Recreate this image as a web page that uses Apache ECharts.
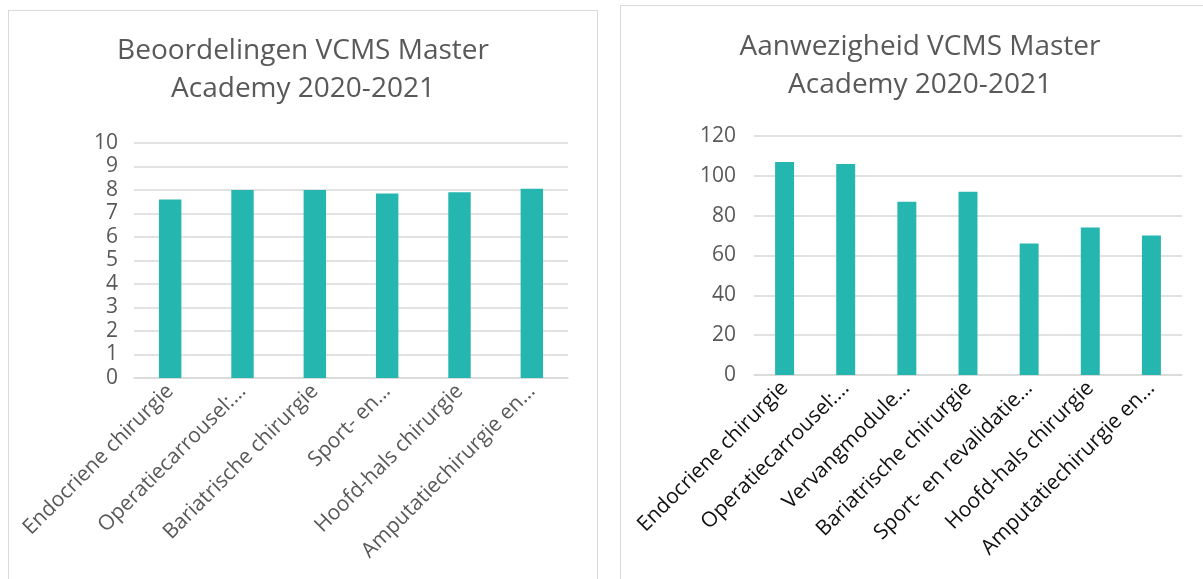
<!DOCTYPE html>
<html>
<head>
<meta charset="utf-8">
<script src="https://cdn.jsdelivr.net/npm/echarts@6/dist/echarts.min.js"></script>
<style>
body{margin:0;background:#fff;overflow:hidden;width:1203px;height:579px;position:relative}
.card{position:absolute;border:1px solid #d9d9d9;background:#fff;box-sizing:border-box}
#echarts1{left:8px;top:10px;width:590px;height:600px}
#echarts2{left:620px;top:5px;width:600px;height:600px}
</style>
</head>
<body>
<div class="card" id="echarts1"></div>
<div class="card" id="echarts2"></div>
<script>
// beoordelingen (scores)
const scoreCategories = ['Endocriene chirurgie', 'Operatiecarrousel:…', 'Bariatrische chirurgie', 'Sport- en…', 'Hoofd-hals chirurgie', 'Amputatiechirurgie en…']
const scoreValues = [7.6, 8.0, 8.0, 7.85, 7.9, 8.05]
const scoreTicks = [0, 1, 2, 3, 4, 5, 6, 7, 8, 9, 10]

// aanwezigheid (attendance)
const attendCategories = ['Endocriene chirurgie', 'Operatiecarrousel:…', 'Vervangmodule…', 'Bariatrische chirurgie', 'Sport- en revalidatie…', 'Hoofd-hals chirurgie', 'Amputatiechirurgie en…']
const attendValues = [107, 106, 87, 92, 66, 74, 70]
const attendTicks = [0, 20, 40, 60, 80, 100, 120]

const font = "'Open Sans', sans-serif"
const grey = '#595959'
const barColor = '#25b6b0'

function makeOption(title, cats, vals, ticks, grid){
  return {
    animation: false,
    title: {
      text: title,
      left: 'center',
      top: grid.titleTop,
      textStyle: { fontFamily: font, fontSize: 28, fontWeight: 'normal', color: grey, lineHeight: 38 }
    },
    grid: { left: grid.left, top: grid.top, width: grid.width, height: grid.height },
    xAxis: {
      type: 'category',
      data: cats,
      axisLine: { lineStyle: { color: '#d9d9d9', width: 1.5 } },
      axisTick: { show: false },
      axisLabel: { interval: 0, rotate: 45, margin: 10, fontFamily: font, fontSize: 21, color: grid.catColor }
    },
    yAxis: {
      type: 'value',
      min: ticks[0],
      max: ticks[ticks.length - 1],
      interval: ticks[1] - ticks[0],
      axisLine: { show: false },
      axisTick: { show: false },
      axisLabel: { margin: grid.labelMargin, fontFamily: font, fontSize: 21, color: grey },
      splitLine: { lineStyle: { color: '#d9d9d9', width: 1.5 } }
    },
    series: [{
      type: 'bar',
      data: vals,
      barWidth: '31%',
      itemStyle: { color: barColor }
    }]
  }
}

let echarts1 = echarts.init(document.getElementById('echarts1'))
echarts1.setOption(makeOption('Beoordelingen VCMS Master\nAcademy 2020-2021', scoreCategories, scoreValues, scoreTicks,
  { titleTop: 16, left: 125, top: 132, width: 434, height: 235, labelMargin: 16, catColor: grey }))

let echarts2 = echarts.init(document.getElementById('echarts2'))
echarts2.setOption(makeOption('Aanwezigheid VCMS Master\nAcademy 2020-2021', attendCategories, attendValues, attendTicks,
  { titleTop: 17, left: 133, top: 130, width: 428, height: 239, labelMargin: 18, catColor: '#111111' }))
</script>
</body>
</html>
